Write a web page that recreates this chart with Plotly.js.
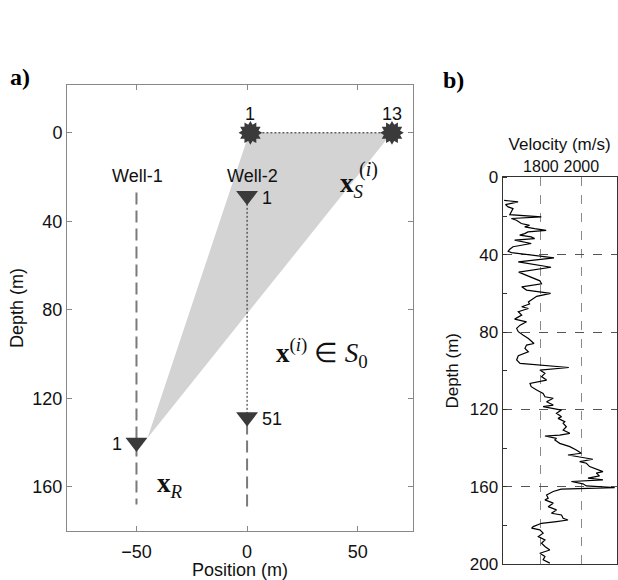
<!DOCTYPE html>
<html>
<head>
<meta charset="utf-8">
<script src="https://cdn.plot.ly/plotly-3.0.1.min.js"></script>
<style>html,body{margin:0;padding:0;background:#fff;}#chart{width:618px;height:580px;}</style>
</head>
<body>
<div id="chart"></div>
<script>
// ---------- Panel a: acquisition geometry ----------
const sourceX = [1.5, 65.5];
const sourceDepth = [0, 0];
const sourceLabels = ['1', '13'];

const well1X = [-50, -50];
const well1Depth = [27, 168];
const well2DashX = [0, 0];
const well2DashDepth = [131, 169];

const recW2X = [0, 0];
const recW2Depth = [28.5, 128.5];
const recW2Labels = ['1', '51'];
const recW1X = [-50];
const recW1Depth = [140];
const recW1Labels = ['1'];

const coneX = [1, 65.5, -45, 1];
const coneDepth = [0, 0, 138, 0];

const wellNames = ['Well-1', 'Well-2'];
const wellNameX = [-49.5, 2.3];
const wellNameDepth = [19.5, 19.5];

// ---------- Panel b: velocity log ----------
const logDepth = [11.9,12.7,14.1,15.3,16.2,17.9,19.3,20.5,21.3,22.2,23.9,24.8,25.6,26.5,27.4,28.2,29.1,29.9,30.8,31.7,32.5,34.2,35.1,35.9,37.2,38.2,38.9,
  41.6,43.7,46.5,49.0,51.4,53.5,55.0,56.6,58.3,60.0,61.5,62.6,64.4,65.5,66.9,67.8,69.5,71.2,73.3,74.7,76.4,78.1,79.8,81.6,83.3,85.9,86.7,88.4,90.2,92.2,94.4,96.2,97.2,98.3,99.6,
  101.3,103.0,104.8,106.5,108.2,109.9,111.7,113.4,114.2,116.0,117.7,118.5,119.4,120.3,122.0,123.7,124.6,126.3,127.1,128.9,130.6,132.3,133.2,133.7,134.9,135.7,137.5,139.2,
  140.9,142.6,143.5,144.3,145.7,146.9,147.8,149.5,151.2,152.1,152.9,154.3,155.5,156.4,157.2,158.4,159.5,160.4,161.2,162.4,164.2,165.9,166.7,168.4,170.2,171.9,173.6,174.5,
  176.2,177.1,177.9,178.8,180.5,181.3,182.2,183.9,185.7,187.4,189.1,190.8,192.6,194.3,196.0,197.7,199.4];
const logVel = [1618,1687,1625,1638,1662,1654,1646,1802,1654,1679,1703,1744,1720,1769,1826,1736,1720,1695,1752,1769,1670,1752,1695,1662,1646,1638,1654,
  1865,1688,1850,1690,1746,1795,1803,1705,1729,1848,1779,1762,1738,1744,1705,1738,1688,1705,1670,1729,1697,1680,1688,1713,1738,1766,1729,1721,1738,1688,1680,1697,1795,1938,1795,
  1820,1803,1828,1746,1752,1779,1811,1820,1861,1828,1861,1811,1852,1902,1877,1902,1885,1918,1910,1926,1910,1943,1893,1820,1877,1869,1893,1943,
  1975,2000,1934,1984,2057,1992,2025,2041,2090,2107,2074,2090,2033,2107,1951,2008,2025,2165,1900,1861,1828,1836,1820,1861,1836,1877,1852,1902,
  1910,1934,1877,1803,1762,1754,1795,1811,1787,1820,1803,1820,1844,1795,1820,1811,1844];
const velTicks = [1800, 2000];
const depthTicksA = [0, 40, 80, 120, 160];
const depthTicksB = [0, 40, 80, 120, 160, 200];
const posTicks = [-50, 0, 50];

const SANS = 'Liberation Sans, Arial, sans-serif';
const SERIF = 'Liberation Serif, Times New Roman, serif';
const markColor = '#3a3a3a';

const traces = [
  {x: coneX, y: coneDepth, mode: 'lines', fill: 'toself', fillcolor: '#d3d3d3',
   line: {width: 0, color: '#d3d3d3'}, hoverinfo: 'skip', xaxis: 'x', yaxis: 'y'},
  {x: sourceX, y: sourceDepth, mode: 'lines', line: {color: '#222', width: 1, dash: '2px,2px'},
   xaxis: 'x', yaxis: 'y'},
  {x: well1X, y: well1Depth, mode: 'lines', line: {color: '#7a7a7a', width: 2, dash: '12px,6px'},
   xaxis: 'x', yaxis: 'y'},
  {x: well2DashX, y: well2DashDepth, mode: 'lines', line: {color: '#7a7a7a', width: 2, dash: '12px,6px'},
   xaxis: 'x', yaxis: 'y'},
  {x: recW2X, y: recW2Depth, mode: 'lines', line: {color: '#222', width: 1, dash: '2px,2px'},
   xaxis: 'x', yaxis: 'y'},
  {x: sourceX, y: sourceDepth, mode: 'markers',
   marker: {symbol: 'hexagram', size: 18, color: markColor, angle: 0, line: {width: 0}},
   xaxis: 'x', yaxis: 'y'},
  {x: sourceX, y: sourceDepth, mode: 'markers',
   marker: {symbol: 'hexagram', size: 18, color: markColor, angle: 30, line: {width: 0}},
   xaxis: 'x', yaxis: 'y'},
  {x: recW2X, y: recW2Depth, mode: 'markers',
   marker: {symbol: 'triangle-down', size: 19, color: markColor, line: {width: 0}},
   xaxis: 'x', yaxis: 'y'},
  {x: recW1X, y: recW1Depth, mode: 'markers',
   marker: {symbol: 'triangle-down', size: 19, color: markColor, line: {width: 0}},
   xaxis: 'x', yaxis: 'y'},
  {x: logVel, y: logDepth, mode: 'lines', line: {color: '#000', width: 1.2},
   xaxis: 'x2', yaxis: 'y2'}
];

const ann = [];
function addA(o) { ann.push(Object.assign({showarrow: false, font: {family: SANS, size: 18, color: '#111'}}, o)); }
function px(x) { return x / 618; }
function py(y) { return 1 - y / 580; }

sourceLabels.forEach((t, i) => addA({x: sourceX[i], y: sourceDepth[i], xref: 'x', yref: 'y', text: t, yshift: 19}));
recW2Labels.forEach((t, i) => addA({x: recW2X[i], y: recW2Depth[i], xref: 'x', yref: 'y', text: t, xanchor: 'left', xshift: 13, yshift: -2}));
recW1Labels.forEach((t, i) => addA({x: recW1X[i], y: recW1Depth[i], xref: 'x', yref: 'y', text: t, xanchor: 'right', xshift: -12, yshift: -1}));
wellNames.forEach((t, i) => addA({x: wellNameX[i], y: wellNameDepth[i], xref: 'x', yref: 'y', text: t}));

const mathFont = {family: SERIF, size: 27, color: '#111'};
addA({x: 47.5, y: 23.5, xref: 'x', yref: 'y', text: '<b>x</b><sub><i>S</i></sub>', font: mathFont});
addA({x: 55, y: 16.5, xref: 'x', yref: 'y', text: '(<i>i</i>)', font: {family: SERIF, size: 20, color: '#111'}});
addA({x: 34, y: 99.5, xref: 'x', yref: 'y', text: '<b>x</b><sup>(<i>i</i>)</sup> ∈ <i>S</i><sub>0</sub>', font: mathFont});
addA({x: -35, y: 159, xref: 'x', yref: 'y', text: '<b>x</b><sub><i>R</i></sub>', font: mathFont});

addA({x: px(8), y: py(77), xref: 'paper', yref: 'paper', text: '<b>a)</b>', xanchor: 'left', yanchor: 'middle', font: {family: SERIF, size: 24, color: '#000'}});
addA({x: px(441), y: py(80), xref: 'paper', yref: 'paper', text: '<b>b)</b>', xanchor: 'left', yanchor: 'middle', font: {family: SERIF, size: 24, color: '#000'}});

const layout = {
  width: 618, height: 580,
  margin: {l: 0, r: 0, t: 0, b: 0},
  paper_bgcolor: '#fff', plot_bgcolor: '#fff',
  showlegend: false,
  font: {family: SANS, size: 18, color: '#111'},
  xaxis: {
    domain: [px(67), px(413)], range: [-81.4, 75], anchor: 'y',
    tickvals: posTicks, ticks: 'inside', ticklen: 5, tickcolor: '#888',
    showline: true, linecolor: '#888', linewidth: 1, mirror: 'ticks',
    showgrid: false, zeroline: false, tickfont: {size: 18, color: '#111'},
    ticklabelstandoff: 4,
    title: {text: 'Position (m)', font: {size: 18, color: '#111'}, standoff: 6}
  },
  yaxis: {
    domain: [py(531), py(85)], range: [180, -21.6], anchor: 'x',
    tickvals: depthTicksA, ticks: 'inside', ticklen: 5, tickcolor: '#888',
    showline: true, linecolor: '#888', linewidth: 1, mirror: 'ticks',
    showgrid: false, zeroline: false, tickfont: {size: 18, color: '#111'},
    title: {text: 'Depth (m)', font: {size: 18, color: '#111'}, standoff: 4}
  },
  xaxis2: {
    domain: [px(502.5), px(616.7)], range: [1610, 2175], anchor: 'y2', side: 'top',
    tickvals: velTicks, ticks: '', showline: true, linecolor: '#333', linewidth: 1, mirror: true,
    showgrid: true, gridcolor: '#8a8a8a', griddash: 'dash', gridwidth: 1, zeroline: false,
    tickfont: {size: 16, color: '#111'}, ticklabelstandoff: -2,
    title: {text: 'Velocity (m/s)', font: {size: 17, color: '#111'}, standoff: 2}
  },
  yaxis2: {
    domain: [py(564.3), py(177.3)], range: [200, 0], anchor: 'x2',
    tickvals: depthTicksB, ticks: '', showline: true, linecolor: '#333', linewidth: 1, mirror: true,
    showgrid: true, gridcolor: '#555', griddash: 'dash', gridwidth: 1, zeroline: false,
    minor: {ticks: 'inside', dtick: 20, ticklen: 4, tickcolor: '#333', showgrid: false},
    tickfont: {size: 17, color: '#111'},
    title: {text: 'Depth (m)', font: {size: 17, color: '#111'}, standoff: 6}
  },
  annotations: ann
};

Plotly.newPlot('chart', traces, layout, {displayModeBar: false, staticPlot: true});
</script>
</body>
</html>
